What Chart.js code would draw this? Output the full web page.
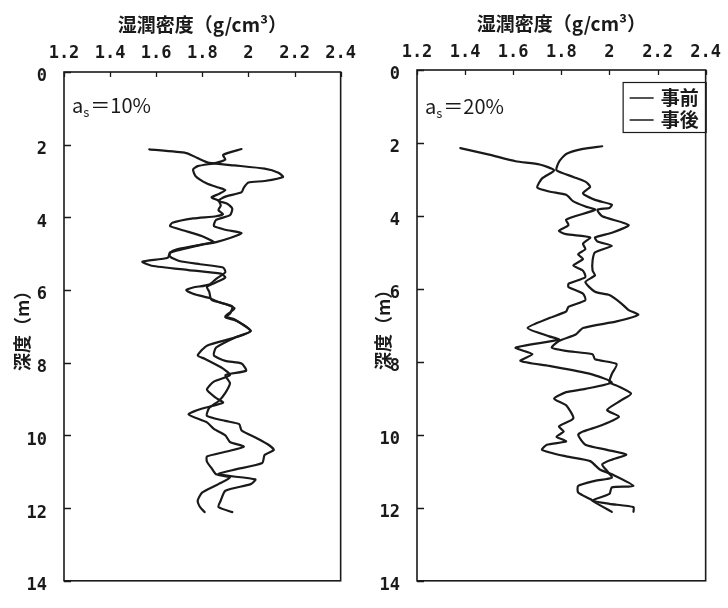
<!DOCTYPE html>
<html lang="ja">
<head>
<meta charset="utf-8">
<script src="https://cdn.jsdelivr.net/npm/chart.js@4.4.0/dist/chart.umd.min.js"></script>
<style>
  html, body { margin: 0; padding: 0; background: #fff; }
  #wrap { position: relative; width: 728px; height: 608px; }
  canvas { position: absolute; top: 0; }
  #chart-10 { left: 0; }
  #chart-20 { left: 364px; }
</style>
</head>
<body>
<div id="wrap">
  <canvas id="chart-10" width="364" height="608"></canvas>
  <canvas id="chart-20" width="364" height="608"></canvas>
</div>
<script>
// axis ticks
const densityTicks = [1.2, 1.4, 1.6, 1.8, 2.0, 2.2, 2.4];
const densityLabels = ['1.2', '1.4', '1.6', '1.8', '2', '2.2', '2.4'];
const depthTicks = [0, 2, 4, 6, 8, 10, 12, 14];
const seriesNames = ['事前', '事後'];
const panelTags = ['10%', '20%'];

// a_s = 10%  (depth m / wet density g/cm3)
const depthPre10 = [2.13, 2.23, 2.37, 2.50, 2.57, 2.66, 2.77, 2.89, 3.00, 3.04, 3.18, 3.31, 3.43, 3.54, 3.63, 3.76, 3.94, 4.07, 4.24, 4.34, 4.43, 4.57, 4.68, 4.75, 4.97, 5.08, 5.20, 5.29, 5.38, 5.51, 5.69, 5.85, 5.93, 6.00, 6.10, 6.22, 6.30, 6.50, 6.72, 6.81, 7.13, 7.31, 7.58, 7.80, 7.95, 8.02, 8.22, 8.34, 8.56, 8.83, 9.06, 9.24, 9.46, 9.60, 9.69, 9.86, 10.09, 10.27, 10.40, 10.54, 10.76, 10.94, 11.07, 11.21, 11.34, 11.52, 11.79, 11.97, 12.11];
const densityPre10 = [1.57, 1.73, 1.78, 1.83, 1.94, 2.07, 2.13, 2.15, 2.07, 2.00, 1.98, 1.97, 1.90, 1.87, 1.91, 1.93, 1.92, 1.86, 1.85, 1.90, 1.97, 1.92, 1.86, 1.80, 1.66, 1.66, 1.70, 1.79, 1.89, 1.90, 1.86, 1.83, 1.76, 1.73, 1.76, 1.83, 1.86, 1.94, 1.90, 1.94, 2.01, 1.94, 1.86, 1.85, 1.90, 1.97, 1.99, 1.90, 1.92, 1.90, 1.87, 1.83, 1.82, 1.90, 1.96, 1.97, 2.04, 2.09, 2.11, 2.07, 2.06, 1.94, 1.87, 2.03, 2.01, 1.90, 1.88, 1.87, 1.93];
const depthPost10 = [2.12, 2.28, 2.41, 2.50, 2.59, 2.68, 2.86, 3.07, 3.18, 3.25, 3.36, 3.45, 3.54, 3.67, 3.80, 3.91, 3.97, 4.03, 4.15, 4.24, 4.36, 4.52, 4.68, 4.72, 4.88, 4.97, 5.11, 5.22, 5.33, 5.45, 5.55, 5.65, 5.76, 5.91, 6.05, 6.27, 6.45, 6.65, 6.75, 6.85, 7.13, 7.31, 7.53, 7.80, 7.89, 8.16, 8.34, 8.52, 8.74, 8.97, 9.10, 9.26, 9.42, 9.64, 9.82, 10.00, 10.18, 10.31, 10.45, 10.58, 10.72, 10.90, 11.07, 11.16, 11.34, 11.57, 11.79, 11.97, 12.11];
const densityPost10 = [1.97, 1.89, 1.90, 1.86, 1.78, 1.76, 1.77, 1.82, 1.87, 1.90, 1.87, 1.84, 1.87, 1.88, 1.87, 1.89, 1.86, 1.76, 1.67, 1.66, 1.72, 1.80, 1.85, 1.82, 1.69, 1.66, 1.65, 1.54, 1.58, 1.74, 1.88, 1.90, 1.87, 1.82, 1.83, 1.84, 1.93, 1.92, 1.90, 1.95, 2.01, 1.94, 1.82, 1.78, 1.81, 1.89, 1.92, 1.85, 1.82, 1.86, 1.89, 1.80, 1.74, 1.82, 1.85, 1.90, 1.92, 1.98, 1.90, 1.82, 1.82, 1.84, 1.86, 1.92, 1.87, 1.80, 1.78, 1.79, 1.81];

// a_s = 20%
const depthPre20 = [2.14, 2.32, 2.50, 2.59, 2.75, 2.97, 3.22, 3.33, 3.42, 3.60, 3.74, 3.83, 4.10, 4.25, 4.41, 4.50, 4.59, 4.76, 4.91, 5.05, 5.18, 5.36, 5.50, 5.68, 5.86, 5.95, 6.13, 6.31, 6.49, 6.62, 6.80, 7.07, 7.30, 7.39, 7.61, 7.79, 7.97, 8.11, 8.33, 8.56, 8.74, 8.83, 9.01, 9.19, 9.55, 9.77, 9.91, 10.05, 10.18, 10.27, 10.41, 10.59, 10.72, 10.95, 11.08, 11.40, 11.44, 11.62, 11.80, 11.89, 11.98, 12.11];
const densityPre20 = [1.38, 1.50, 1.61, 1.71, 1.77, 1.72, 1.70, 1.75, 1.82, 1.85, 1.90, 1.94, 1.82, 1.83, 1.79, 1.82, 1.92, 1.89, 1.90, 1.87, 1.89, 1.85, 1.89, 1.90, 1.83, 1.83, 1.89, 1.90, 1.83, 1.82, 1.75, 1.66, 1.75, 1.79, 1.61, 1.68, 1.63, 1.75, 1.92, 2.01, 1.90, 1.82, 1.77, 1.82, 1.85, 1.79, 1.81, 1.78, 1.82, 1.74, 1.72, 1.82, 1.92, 1.96, 2.01, 2.10, 2.01, 2.00, 1.93, 2.00, 2.10, 2.10];
const depthPost20 = [2.09, 2.16, 2.30, 2.52, 2.75, 2.93, 3.06, 3.20, 3.38, 3.56, 3.69, 3.78, 3.83, 4.01, 4.25, 4.46, 4.59, 4.70, 4.82, 5.00, 5.22, 5.50, 5.63, 5.81, 6.08, 6.17, 6.40, 6.58, 6.71, 6.89, 7.07, 7.25, 7.43, 7.61, 7.70, 7.79, 7.93, 8.06, 8.33, 8.56, 8.65, 8.87, 9.05, 9.32, 9.50, 9.73, 9.91, 10.00, 10.27, 10.41, 10.54, 10.68, 10.81, 10.99, 11.17, 11.26, 11.40, 11.58, 11.76, 11.85, 12.11];
const densityPost20 = [1.97, 1.89, 1.82, 1.79, 1.78, 1.85, 1.90, 1.92, 1.89, 1.94, 2.01, 2.00, 1.95, 1.97, 2.08, 2.01, 1.94, 1.95, 2.01, 1.94, 1.93, 1.93, 1.94, 1.90, 1.94, 2.00, 2.05, 2.08, 2.12, 2.03, 1.89, 1.86, 1.79, 1.76, 1.82, 1.93, 1.94, 2.03, 2.01, 2.00, 2.03, 2.09, 2.05, 1.99, 2.04, 1.97, 1.89, 1.87, 1.90, 1.99, 2.07, 2.01, 1.97, 1.99, 2.01, 1.94, 1.87, 1.87, 1.92, 1.94, 2.01];

const ink = '#1a1a1a';
const cjk = '"Noto Sans CJK JP", "Noto Sans CJK SC", sans-serif';
const mono = '"DejaVu Sans Mono", monospace';

function toPoints(depth, density) {
  return depth.map((d, i) => ({ x: density[i], y: d }));
}

function profile(label, depth, density) {
  return {
    label: label,
    data: toPoints(depth, density),
    showLine: true,
    borderColor: ink,
    backgroundColor: ink,
    borderWidth: 2.2,
    pointRadius: 0,
    tension: 0.2,
    borderJoinStyle: 'round',
    borderCapStyle: 'round'
  };
}

// frame, inward ticks, a_s label and the boxed legend
const panelDecor = {
  id: 'panelDecor',
  afterDatasetsDraw(chart, args, opts) {
    const { ctx, chartArea: a, scales } = chart;
    ctx.save();
    ctx.strokeStyle = ink;
    ctx.lineWidth = 1.6;
    ctx.strokeRect(a.left, a.top, a.right - a.left, a.bottom - a.top);
    ctx.lineWidth = 1.3;
    ctx.beginPath();
    scales.x.ticks.forEach(t => {
      const px = Math.round(scales.x.getPixelForValue(t.value)) + 0.5;
      ctx.moveTo(px, a.top);
      ctx.lineTo(px, a.top + 5);
    });
    scales.y.ticks.forEach(t => {
      const py = Math.round(scales.y.getPixelForValue(t.value)) + 0.5;
      ctx.moveTo(a.left, py);
      ctx.lineTo(a.left + 7, py);
    });
    ctx.stroke();

    ctx.fillStyle = ink;
    ctx.textBaseline = 'alphabetic';
    let tx = a.left + 8;
    const ty = a.top + opts.tagDy;
    ctx.font = '20px ' + cjk;
    ctx.fillText('a', tx, ty);
    tx += ctx.measureText('a').width;
    ctx.font = '13px ' + cjk;
    ctx.fillText('s', tx, ty + 4);
    tx += ctx.measureText('s').width + 1;
    ctx.font = '20px ' + cjk;
    ctx.fillText('＝' + opts.tag, tx, ty);

    if (opts.legend) {
      const bx = a.right - 83, by = a.top + 12;
      ctx.lineWidth = 1.2;
      ctx.strokeRect(bx + 0.5, by + 0.5, a.right - bx, 50);
      ctx.font = 'bold 19px ' + cjk;
      ctx.textBaseline = 'middle';
      chart.data.datasets.forEach((ds, i) => {
        const ly = by + 16 + i * 22;
        ctx.strokeStyle = ds.borderColor;
        ctx.lineWidth = 1.5;
        ctx.beginPath();
        ctx.moveTo(bx + 7, ly);
        ctx.lineTo(bx + 31, ly);
        ctx.stroke();
        ctx.fillText(ds.label, bx + 38, ly);
      });
    }
    ctx.restore();
  }
};

function densityChart(id, preDepth, preDens, postDepth, postDens, g) {
  return new Chart(document.getElementById(id), {
    type: 'scatter',
    data: {
      datasets: [
        profile(seriesNames[0], preDepth, preDens),
        profile(seriesNames[1], postDepth, postDens)
      ]
    },
    options: {
      responsive: false,
      animation: false,
      devicePixelRatio: 1,
      layout: { padding: { left: 0, top: 0, right: g.padRight, bottom: g.padBottom } },
      scales: {
        x: {
          type: 'linear',
          position: 'top',
          min: 1.2,
          max: 2.4,
          afterBuildTicks: s => { s.ticks = densityTicks.map(v => ({ value: v })); },
          afterFit: s => { s.height = g.axisH; },
          grid: { display: false, drawTicks: false },
          border: { display: false },
          ticks: {
            autoSkip: false,
            maxRotation: 0,
            padding: g.xTickPad,
            color: ink,
            font: { family: mono, size: 17, weight: 'bold' },
            callback: (v, i) => densityLabels[i]
          },
          title: {
            display: true,
            text: '湿潤密度（g/cm³）',
            color: ink,
            padding: { top: g.xTitlePad, bottom: 0 },
            font: { family: cjk, size: 19, weight: 'bold' }
          }
        },
        y: {
          type: 'linear',
          reverse: true,
          min: 0,
          max: 14,
          afterBuildTicks: s => { s.ticks = depthTicks.map(v => ({ value: v })); },
          afterFit: s => { s.width = g.axisW; },
          grid: { display: false, drawTicks: false },
          border: { display: false },
          ticks: {
            autoSkip: false,
            padding: g.yTickPad,
            labelOffset: 5,
            color: ink,
            font: { family: mono, size: 17, weight: 'bold' }
          },
          title: {
            display: true,
            text: '深度（m）',
            color: ink,
            padding: { top: g.yTitlePad, bottom: 0 },
            font: { family: cjk, size: 18, weight: 'bold' }
          }
        }
      },
      plugins: {
        legend: { display: false },
        tooltip: { enabled: false },
        colors: { enabled: false },
        panelDecor: { tag: g.tag, tagDy: g.tagDy, legend: g.legend }
      }
    },
    plugins: [panelDecor]
  });
}

densityChart('chart-10', depthPre10, densityPre10, depthPost10, densityPost10, {
  axisW: 64, axisH: 72, padRight: 16, padBottom: 16,
  xTickPad: 8, xTitlePad: 13, yTickPad: 17, yTitlePad: 11,
  tag: panelTags[0], tagDy: 41, legend: false
});

densityChart('chart-20', depthPre20, densityPre20, depthPost20, densityPost20, {
  axisW: 53, axisH: 70, padRight: 21, padBottom: 20,
  xTickPad: 7, xTitlePad: 12, yTickPad: 17, yTitlePad: 8,
  tag: panelTags[1], tagDy: 44, legend: true
});
</script>
</body>
</html>
